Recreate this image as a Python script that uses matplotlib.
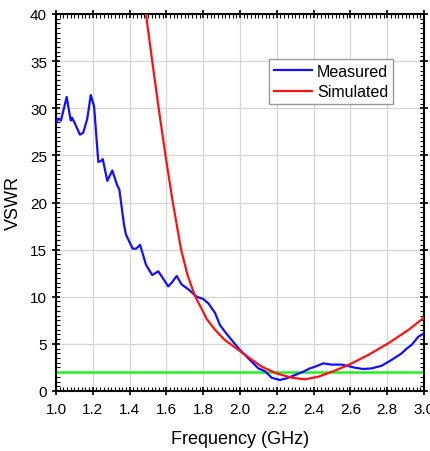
import matplotlib
matplotlib.use("Agg")
import matplotlib.pyplot as plt
from matplotlib.ticker import MultipleLocator

# Measured VSWR
meas_f = [1.0, 1.013, 1.027, 1.058, 1.08, 1.087, 1.10, 1.13, 1.148, 1.17, 1.189, 1.207,
          1.23, 1.244, 1.254, 1.279, 1.306, 1.333, 1.344, 1.37, 1.38, 1.417, 1.435, 1.457,
          1.489, 1.523, 1.556, 1.61, 1.629, 1.656, 1.683, 1.719, 1.765, 1.80, 1.828,
          1.864, 1.891, 1.918, 1.955, 2.0, 2.045, 2.10, 2.136, 2.172, 2.217, 2.254, 2.30,
          2.344, 2.38, 2.408, 2.453, 2.498, 2.553, 2.589, 2.625, 2.67, 2.716, 2.77,
          2.824, 2.879, 2.906, 2.933, 2.969, 3.0]
meas_v = [28.5, 28.9, 28.7, 31.2, 28.7, 29.0, 28.5, 27.2, 27.4, 28.9, 31.4, 30.2,
          24.3, 24.4, 24.6, 22.3, 23.4, 21.8, 21.4, 17.6, 16.6, 15.1, 15.1, 15.5,
          13.4, 12.3, 12.7, 11.1, 11.5, 12.2, 11.3, 10.8, 10.0, 9.76, 9.3,
          8.3, 7.0, 6.3, 5.4, 4.35, 3.46, 2.4, 2.1, 1.41, 1.17, 1.35, 1.7,
          2.05, 2.4, 2.58, 2.93, 2.8, 2.8, 2.65, 2.47, 2.33, 2.4, 2.68,
          3.3, 4.0, 4.5, 4.9, 5.76, 6.1]

# Simulated VSWR
sim_f = [1.46, 1.489, 1.523, 1.558, 1.595, 1.635, 1.68, 1.715, 1.755, 1.80, 1.819, 1.864,
         1.918, 2.0, 2.054, 2.118, 2.2, 2.281, 2.353, 2.426, 2.516, 2.589, 2.697, 2.806,
         2.915, 3.0]
sim_v = [44.5, 40.0, 35.0, 30.0, 25.0, 20.0, 15.0, 12.3, 10.1, 8.4, 7.64, 6.5,
         5.4, 4.24, 3.46, 2.58, 1.86, 1.41, 1.24, 1.52, 2.16, 2.76, 3.82, 5.06,
         6.47, 7.78]

ref_level = 2.0
x_ticks = [1.0, 1.2, 1.4, 1.6, 1.8, 2.0, 2.2, 2.4, 2.6, 2.8, 3.0]
y_ticks = [0, 5, 10, 15, 20, 25, 30, 35, 40]

plt.rcParams['font.family'] = ['Liberation Sans', 'DejaVu Sans']

fig = plt.figure(figsize=(4.30, 4.52), dpi=100)
ax = fig.add_axes([56/430, 1 - 392/452, (424-56)/430, (392-15)/452])

ax.axhline(ref_level, color='#22ee22', lw=1.8, zorder=2)
ax.plot(meas_f, meas_v, color='#1010ff', lw=1.6, label='Measured', zorder=3)
ax.plot(sim_f, sim_v, color='#ff1010', lw=1.6, label='Simulated', zorder=3)

ax.set_xlim(1.0, 3.0)
ax.set_ylim(0, 40)
ax.set_xticks(x_ticks)
ax.set_xticklabels([f"{t:.1f}" for t in x_ticks])
ax.set_yticks(y_ticks)
ax.xaxis.set_minor_locator(MultipleLocator(0.02))
ax.yaxis.set_minor_locator(MultipleLocator(0.5))
ax.tick_params(which='major', direction='inout', length=6, width=1.2, labelsize=11,
               top=True, right=True, colors='black')
ax.tick_params(which='minor', direction='in', length=3, width=0.8, top=True, right=True)
ax.tick_params(axis='x', pad=5)
for s in ax.spines.values():
    s.set_linewidth(1.5)
ax.grid(True, which='major', color='#d6d6d6', lw=0.9)
ax.set_axisbelow(True)

ax.set_xlabel('Frequency (GHz)', fontsize=13, labelpad=10)
ax.set_ylabel('VSWR', fontsize=13, labelpad=6)

leg = ax.legend(loc='upper right', bbox_to_anchor=(0.916, 0.881), fontsize=11.5,
                frameon=True, fancybox=False, edgecolor='#999999', framealpha=1,
                handlelength=2.4, handletextpad=0.3, borderpad=0.3, labelspacing=0.35,
                borderaxespad=0)
leg.get_frame().set_linewidth(1.0)

fig.savefig('out.png', dpi=100)
